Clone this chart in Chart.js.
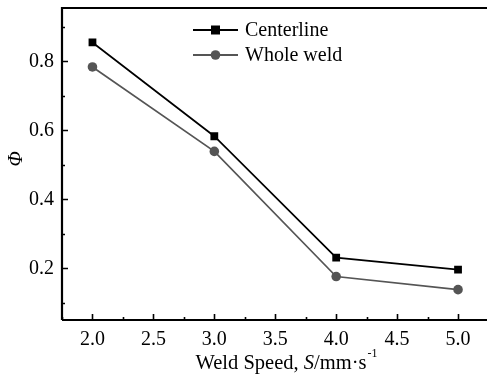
<!DOCTYPE html>
<html>
<head>
<meta charset="utf-8">
<script src="https://cdn.jsdelivr.net/npm/chart.js@4.4.0/dist/chart.umd.min.js"></script>
<style>
  html, body { margin: 0; padding: 0; background: #fff; overflow: hidden; }
  #wrap { width: 494px; height: 379px; }
</style>
</head>
<body>
<div id="wrap"><canvas id="chart" width="494" height="379"></canvas></div>
<script>
var speeds = [2.0, 3.0, 4.0, 5.0];
var centerline = [0.855, 0.583, 0.231, 0.196];
var wholeWeld = [0.784, 0.539, 0.176, 0.138];
var seriesNames = ['Centerline', 'Whole weld'];
var xTicks = [2.0, 2.5, 3.0, 3.5, 4.0, 4.5, 5.0];
var yTicks = [0.2, 0.4, 0.6, 0.8];

var FONT = '"Liberation Serif", "Times New Roman", serif';

function toPoints(xs, ys) {
    var pts = [];
    for (var i = 0; i < xs.length; i++) {
        pts.push({ x: xs[i], y: ys[i] });
    }
    return pts;
}

// ticks drawn inward, plus the frame and custom titles/legend
var framePlugin = {
    id: 'frame',
    afterDraw: function (chart) {
        var ctx = chart.ctx;
        var a = chart.chartArea;
        var xs = chart.scales.x;
        var ys = chart.scales.y;
        ctx.save();
        ctx.strokeStyle = '#000';
        ctx.lineWidth = 1.6;
        ctx.beginPath();
        var v, p;
        for (v = 1.75; v <= 5.26; v += 0.25) {
            p = Math.round(xs.getPixelForValue(v)) + 0.5;
            var major = Math.abs(v * 2 - Math.round(v * 2)) < 1e-6;
            ctx.moveTo(p, a.bottom);
            ctx.lineTo(p, a.bottom - (major ? 6 : 3));
        }
        for (v = 0.1; v <= 0.95; v += 0.1) {
            p = Math.round(ys.getPixelForValue(v)) + 0.5;
            var majorY = Math.round(v * 10) % 2 === 0;
            ctx.moveTo(a.left, p);
            ctx.lineTo(a.left + (majorY ? 6 : 3), p);
        }
        ctx.stroke();

        // frame
        ctx.lineWidth = 2.2;
        ctx.beginPath();
        ctx.moveTo(a.left, a.bottom);
        ctx.lineTo(a.left, a.top);
        ctx.lineTo(a.right, a.top);
        ctx.lineTo(a.right, a.bottom);
        ctx.lineTo(a.left, a.bottom);
        ctx.stroke();

        // legend
        var items = [
            { name: seriesNames[0], color: '#000', shape: 'square' },
            { name: seriesNames[1], color: '#555', shape: 'circle' }
        ];
        ctx.font = '20px ' + FONT;
        ctx.textBaseline = 'middle';
        ctx.textAlign = 'left';
        for (var i = 0; i < items.length; i++) {
            var it = items[i];
            var y = a.top + 22 + i * 25;
            var x0 = a.left + 131;
            ctx.strokeStyle = it.color;
            ctx.lineWidth = 1.8;
            ctx.beginPath();
            ctx.moveTo(x0, y);
            ctx.lineTo(x0 + 45, y);
            ctx.stroke();
            ctx.fillStyle = it.color;
            if (it.shape === 'square') {
                ctx.fillRect(x0 + 18, y - 4.5, 9, 9);
            } else {
                ctx.beginPath();
                ctx.arc(x0 + 22.5, y, 4.8, 0, Math.PI * 2);
                ctx.fill();
            }
            ctx.fillStyle = '#000';
            ctx.fillText(it.name, x0 + 52, y + 1);
        }

        // x title
        var parts = [
            { t: 'Weld Speed, ', f: '20.5px ' + FONT },
            { t: 'S', f: 'italic 20.5px ' + FONT },
            { t: '/mm\u00b7s', f: '20.5px ' + FONT }
        ];
        var sup = { t: '-1', f: '12px ' + FONT };
        var total = 0;
        for (i = 0; i < parts.length; i++) {
            ctx.font = parts[i].f;
            total += ctx.measureText(parts[i].t).width;
        }
        ctx.font = sup.f;
        total += ctx.measureText(sup.t).width;
        var cx = 286 - total / 2;
        var ty = 364;
        ctx.textBaseline = 'middle';
        for (i = 0; i < parts.length; i++) {
            ctx.font = parts[i].f;
            ctx.fillText(parts[i].t, cx, ty);
            cx += ctx.measureText(parts[i].t).width;
        }
        ctx.font = sup.f;
        ctx.fillText(sup.t, cx + 1, ty - 10);

        // y title
        ctx.save();
        ctx.translate(17, 159);
        ctx.rotate(-Math.PI / 2);
        ctx.font = 'italic 20px ' + FONT;
        ctx.textAlign = 'center';
        ctx.fillText('\u03a6', 0, 0);
        ctx.restore();

        ctx.restore();
    }
};

var chartOptions = {
    type: 'line',
    data: {
        datasets: [
            {
                label: seriesNames[0],
                data: toPoints(speeds, centerline),
                borderColor: '#000',
                backgroundColor: '#000',
                borderWidth: 1.7,
                pointStyle: 'rect',
                pointRadius: 5.5,
                pointBorderWidth: 0,
                tension: 0
            },
            {
                label: seriesNames[1],
                data: toPoints(speeds, wholeWeld),
                borderColor: '#555',
                backgroundColor: '#555',
                borderWidth: 1.7,
                pointStyle: 'circle',
                pointRadius: 4.8,
                pointBorderWidth: 0,
                tension: 0
            }
        ]
    },
    options: {
        responsive: false,
        animation: false,
        layout: { padding: { top: 8, right: 0, left: 0, bottom: 0 } },
        plugins: {
            legend: { display: false },
            tooltip: { enabled: false }
        },
        scales: {
            x: {
                type: 'linear',
                min: 1.75,
                max: 5.25,
                afterFit: function (scale) {
                    scale.height = 59;
                    scale.paddingLeft = 0;
                    scale.paddingRight = 0;
                },
                afterBuildTicks: function (scale) {
                    scale.ticks = xTicks.map(function (v) { return { value: v }; });
                },
                grid: { display: false, drawTicks: false },
                border: { display: false },
                ticks: {
                    color: '#000',
                    padding: 8,
                    font: { family: FONT, size: 20 },
                    callback: function (v) { return Number(v).toFixed(1); }
                }
            },
            y: {
                min: 0.05,
                max: 0.955,
                afterFit: function (scale) {
                    scale.width = 62;
                    scale.paddingTop = 0;
                    scale.paddingBottom = 0;
                },
                afterBuildTicks: function (scale) {
                    scale.ticks = yTicks.map(function (v) { return { value: v }; });
                },
                grid: { display: false, drawTicks: false },
                border: { display: false },
                ticks: {
                    color: '#000',
                    padding: 8,
                    font: { family: FONT, size: 20 },
                    callback: function (v) { return Number(v).toFixed(1); }
                }
            }
        }
    },
    plugins: [framePlugin]
};

var chartCtx = document.getElementById('chart');
var weldChart = new Chart(chartCtx, chartOptions);
</script>
</body>
</html>
